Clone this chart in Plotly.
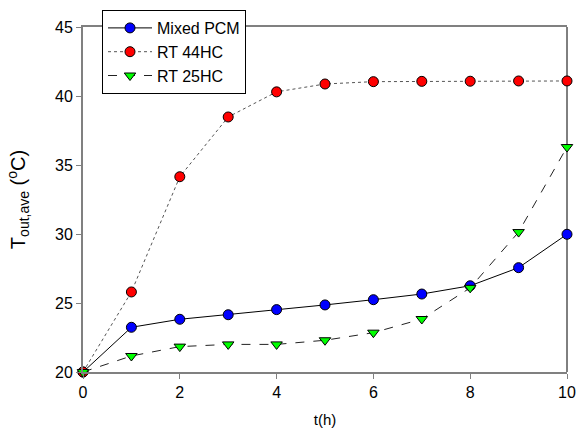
import plotly.graph_objects as go

t = [0, 1, 2, 3, 4, 5, 6, 7, 8, 9, 10]
mixed_pcm = [20.0, 23.24, 23.82, 24.15, 24.52, 24.86, 25.24, 25.65, 26.25, 27.56, 29.98]
rt44hc = [20.0, 25.8, 34.15, 38.48, 40.3, 40.87, 41.04, 41.06, 41.07, 41.09, 41.09]
rt25hc = [20.0, 21.16, 21.84, 22.0, 22.0, 22.3, 22.85, 23.84, 26.1, 30.14, 36.3]

x_ticks = [0, 2, 4, 6, 8, 10]
y_ticks = [20, 25, 30, 35, 40, 45]

FONT = "Liberation Sans, Arial, sans-serif"

fig = go.Figure()
fig.add_trace(go.Scatter(
    x=t, y=mixed_pcm, name="Mixed PCM", mode="lines+markers", cliponaxis=False,
    line=dict(color="black", width=1, dash="solid"),
    marker=dict(symbol="circle", size=10, color="#0000ff", line=dict(color="black", width=1)),
))
fig.add_trace(go.Scatter(
    x=t, y=rt44hc, name="RT 44HC", mode="lines+markers", cliponaxis=False,
    line=dict(color="#555555", width=1, dash="dot"),
    marker=dict(symbol="circle", size=10, color="#ff0000", line=dict(color="black", width=1)),
))
fig.add_trace(go.Scatter(
    x=t, y=rt25hc, name="RT 25HC", mode="lines+markers", cliponaxis=False,
    line=dict(color="#222222", width=1, dash="dash"),
    marker=dict(symbol="triangle-down", size=10, color="#00ff00", line=dict(color="black", width=1)),
))

axis_common = dict(
    showgrid=False, zeroline=False, showline=True, linecolor="#808080", linewidth=2,
    ticks="outside", ticklen=5, tickcolor="#808080", tickwidth=1, automargin=False,
    tickfont=dict(family=FONT, size=16, color="black"),
)

H_IN = 444 - 10 - 72

fig.update_layout(
    width=579, height=444,
    margin=dict(l=83, r=12, t=10, b=72),
    paper_bgcolor="white", plot_bgcolor="white",
    font=dict(family=FONT, size=16, color="black"),
    xaxis=dict(range=[0, 10], tickvals=x_ticks, mirror=True,
               title=dict(text="t(h)", font=dict(size=15), standoff=14), **axis_common),
    yaxis=dict(range=[20, 45], tickvals=y_ticks, mirror=False, domain=[0, 345 / H_IN],
               title=dict(text="T<sub>out,ave</sub> (<sup>o</sup>C)", font=dict(size=20), standoff=24),
               **axis_common),
    legend=dict(
        x=(102 - 83) / 484, y=1.0, xanchor="left", yanchor="top",
        bgcolor="white", bordercolor="black", borderwidth=1,
        font=dict(size=16), tracegroupgap=0, itemwidth=44,
    ),
    showlegend=True,
    shapes=[dict(type="line", xref="paper", yref="y domain", x0=1, x1=1, y0=0, y1=1,
                 line=dict(color="black", width=1), layer="below")],
)

fig.write_html("out.html", post_script="document.body.style.margin='0';",
               config={"displayModeBar": False})
